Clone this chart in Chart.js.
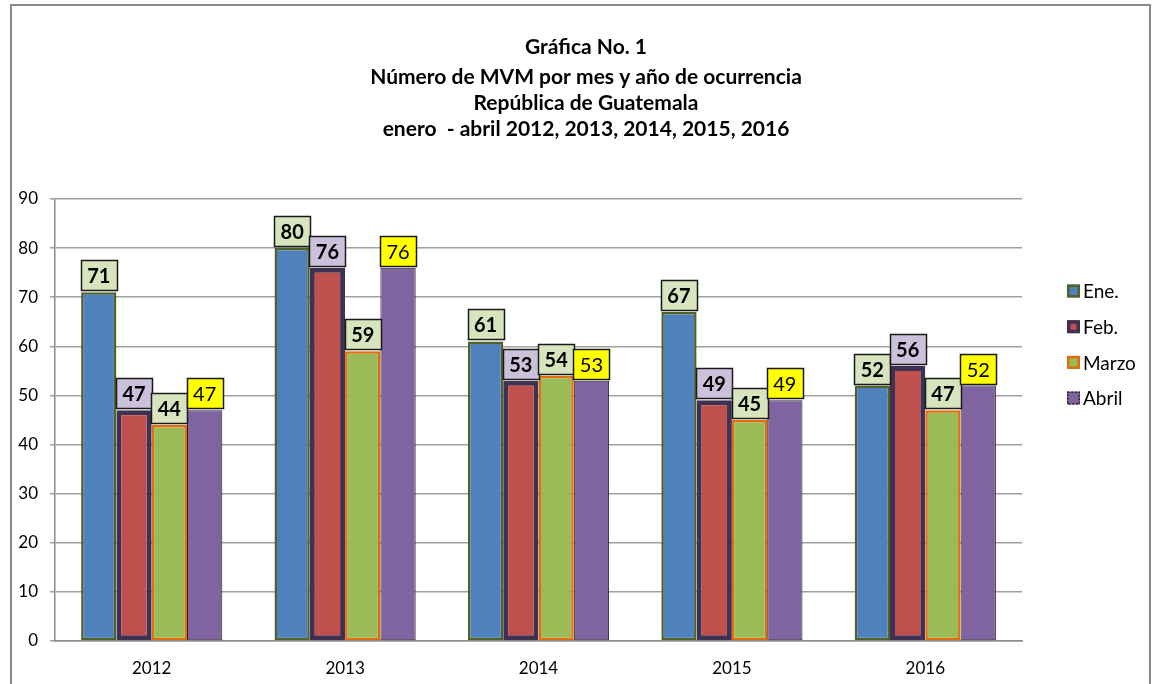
<!DOCTYPE html>
<html>
<head>
<meta charset="utf-8">
<script src="https://cdn.jsdelivr.net/npm/chart.js@4.4.1/dist/chart.umd.min.js"></script>
<style>
  html, body { margin: 0; padding: 0; background: #ffffff; }
  #wrap { position: relative; width: 1156px; height: 684px; }
  canvas { display: block; }
</style>
</head>
<body>
<div id="wrap"><canvas id="c" width="1156" height="684"></canvas></div>
<script>
// ---- Data ----
const years = ["2012", "2013", "2014", "2015", "2016"];
const seriesNames = ["Ene.", "Feb.", "Marzo", "Abril"];
const ene   = [71, 80, 61, 67, 52];
const feb   = [47, 76, 53, 49, 56];
const marzo = [44, 59, 54, 45, 47];
const abril = [47, 76, 53, 49, 52];
const yTicks = [0, 10, 20, 30, 40, 50, 60, 70, 80, 90];
const titleLines = [
  "Gráfica No. 1",
  "Número de MVM por mes y año de ocurrencia",
  "República de Guatemala",
  "enero  - abril 2012, 2013, 2014, 2015, 2016"
];

const FONT = "Lato, 'Open Sans', 'DejaVu Sans', sans-serif";

// ---- Styles ----
const styles = [
  { bg: "#4f81bd", border: "#4f6228", bw: 2.5, dash: [], labelBg: "#d7e4bd", bold: true },
  { bg: "#c0504d", border: "#3f3151", bw: 5, dash: [], labelBg: "#ccc1da", bold: true },
  { bg: "#9bbb59", border: "#e46c0a", bw: 2.5, dash: [], labelBg: "#d7e4bd", bold: true },
  { bg: "#8064a2", border: "#262626", bw: 1, dash: [3, 2], labelBg: "#ffff00", bold: false }
];
const values = [ene, feb, marzo, abril];

const datasets = seriesNames.map((name, i) => ({
  label: name,
  data: values[i],
  backgroundColor: styles[i].bg,
  borderColor: styles[i].border,
  borderWidth: styles[i].bw,
  borderDash: styles[i].dash,
  borderSkipped: false,
  categoryPercentage: 0.73,
  barPercentage: 1.0
}));

// Frame + title
const framePlugin = {
  id: "frame",
  beforeDraw(chart) {
    const ctx = chart.ctx;
    ctx.save();
    ctx.fillStyle = "#ffffff";
    ctx.fillRect(0, 0, chart.width, chart.height);
    ctx.strokeStyle = "#8a8a8a";
    ctx.lineWidth = 2;
    ctx.beginPath();
    ctx.moveTo(11, 690);
    ctx.lineTo(11, 5);
    ctx.lineTo(1150, 5);
    ctx.lineTo(1150, 690);
    ctx.stroke();
    ctx.restore();
  },
  afterDraw(chart) {
    const ctx = chart.ctx;
    ctx.save();
    ctx.fillStyle = "#000000";
    ctx.font = "bold 21px " + FONT;
    ctx.textAlign = "center";
    ctx.textBaseline = "middle";
    const ys = [47, 77, 103, 129];
    titleLines.forEach((t, i) => ctx.fillText(t, 586, ys[i]));
    ctx.restore();
  }
};

// Data labels boxes
const labelPlugin = {
  id: "boxLabels",
  afterDatasetsDraw(chart) {
    const ctx = chart.ctx;
    ctx.save();
    chart.data.datasets.forEach((ds, di) => {
      const meta = chart.getDatasetMeta(di);
      const st = styles[di];
      meta.data.forEach((el, idx) => {
        const txt = String(ds.data[idx]);
        ctx.font = (st.bold ? "bold " : "") + "20px " + FONT;
        const tw = ctx.measureText(txt).width;
        const w = Math.round(tw + 13);
        const h = 30;
        const x = Math.round(el.x - w / 2) + 0.5;
        const y = Math.round(el.y - 2 - h) + 0.5;
        ctx.fillStyle = st.labelBg;
        ctx.fillRect(x, y, w, h);
        ctx.strokeStyle = "#1a1a1a";
        ctx.lineWidth = 1.5;
        ctx.setLineDash([]);
        ctx.strokeRect(x, y, w, h);
        ctx.fillStyle = "#000000";
        ctx.textAlign = "center";
        ctx.textBaseline = "middle";
        ctx.fillText(txt, el.x, y + h / 2 + 1);
      });
    });
    ctx.restore();
  }
};

// Custom legend
const legendPlugin = {
  id: "customLegend",
  afterDraw(chart) {
    const ctx = chart.ctx;
    ctx.save();
    const x0 = 1067, y0 = 291, step = 35.7, box = 13;
    chart.data.datasets.forEach((ds, i) => {
      const cy = y0 + i * step;
      const st = styles[i];
      ctx.fillStyle = st.bg;
      ctx.fillRect(x0, cy - box / 2, box, box);
      ctx.strokeStyle = st.border;
      ctx.lineWidth = i === 1 ? 3.5 : (i === 3 ? 1.5 : 2.5);
      ctx.setLineDash(i === 3 ? [2, 1.5] : []);
      ctx.strokeRect(x0 + ctx.lineWidth / 2, cy - box / 2 + ctx.lineWidth / 2, box - ctx.lineWidth, box - ctx.lineWidth);
      ctx.setLineDash([]);
      ctx.fillStyle = "#000000";
      ctx.font = "19px " + FONT;
      ctx.textAlign = "left";
      ctx.textBaseline = "middle";
      ctx.fillText(ds.label, x0 + box + 3, cy + 1);
    });
    ctx.restore();
  }
};

new Chart(document.getElementById("c"), {
  type: "bar",
  data: { labels: years, datasets: datasets },
  options: {
    responsive: false,
    animation: false,
    devicePixelRatio: 1,
    layout: { padding: { top: 199, right: 134, bottom: 0, left: 0 } },
    plugins: {
      legend: { display: false },
      title: { display: false },
      tooltip: { enabled: false }
    },
    scales: {
      x: {
        grid: { display: false, drawTicks: false },
        border: { display: true, color: "#8c8c8c", width: 1.5 },
        ticks: { color: "#000000", font: { family: FONT, size: 17 }, padding: 17 },
        afterFit(scale) { scale.height = 43; }
      },
      y: {
        min: 0,
        max: 90,
        afterBuildTicks(scale) { scale.ticks = yTicks.map(v => ({ value: v })); },
        grid: { color: "#a0a0a0", lineWidth: 1.5, drawTicks: true, tickLength: 5 },
        border: { display: true, color: "#8c8c8c", width: 1.5 },
        ticks: { color: "#000000", font: { family: FONT, size: 17 }, padding: 12 },
        afterFit(scale) { scale.width = 55; }
      }
    }
  },
  plugins: [framePlugin, labelPlugin, legendPlugin]
});
</script>
</body>
</html>
